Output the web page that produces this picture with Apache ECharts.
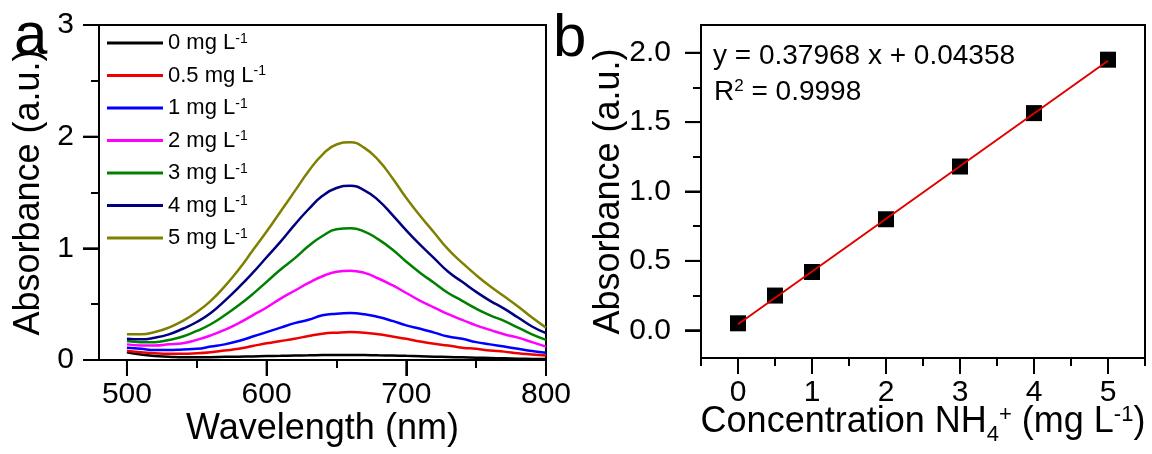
<!DOCTYPE html>
<html>
<head>
<meta charset="utf-8">
<script src="https://cdn.jsdelivr.net/npm/echarts@6/dist/echarts.min.js"></script>
<style>
  html, body { margin: 0; padding: 0; background: #fff; }
  #chart { width: 1152px; height: 454px; }
</style>
</head>
<body>
<div id="chart"></div>
<script>
// panel a: UV-vis spectra
const wavelengths = [500, 510, 520, 530, 540, 550, 560, 570, 580, 590, 600, 610, 620, 630, 640, 650,
  660, 670, 680, 690, 700, 710, 720, 730, 740, 750, 760, 770, 780, 790, 800]
const abs0 = [0.07, 0.05, 0.035, 0.03, 0.025, 0.025, 0.025, 0.028, 0.03, 0.032, 0.035, 0.037, 0.04, 0.042, 0.044, 0.045,
  0.045, 0.044, 0.042, 0.04, 0.037, 0.034, 0.03, 0.027, 0.024, 0.021, 0.018, 0.015, 0.012, 0.01, 0.008]
const abs05 = [0.08, 0.07, 0.06, 0.055, 0.055, 0.06, 0.07, 0.085, 0.10, 0.125, 0.15, 0.17, 0.19, 0.215, 0.235, 0.245,
  0.25, 0.245, 0.23, 0.21, 0.19, 0.165, 0.145, 0.13, 0.11, 0.10, 0.085, 0.075, 0.06, 0.05, 0.04]
const abs1 = [0.11, 0.10, 0.09, 0.09, 0.095, 0.10, 0.12, 0.14, 0.17, 0.21, 0.25, 0.29, 0.33, 0.36, 0.40, 0.415,
  0.42, 0.41, 0.385, 0.35, 0.31, 0.28, 0.245, 0.21, 0.19, 0.16, 0.14, 0.12, 0.10, 0.08, 0.065]
const abs2 = [0.14, 0.13, 0.13, 0.14, 0.15, 0.18, 0.22, 0.27, 0.33, 0.40, 0.47, 0.55, 0.62, 0.69, 0.75, 0.79,
  0.80, 0.78, 0.73, 0.67, 0.60, 0.53, 0.47, 0.41, 0.36, 0.31, 0.27, 0.23, 0.20, 0.16, 0.12]
const abs3 = [0.17, 0.16, 0.16, 0.18, 0.21, 0.26, 0.32, 0.40, 0.49, 0.59, 0.70, 0.81, 0.91, 1.02, 1.11, 1.17,
  1.18, 1.15, 1.08, 0.99, 0.88, 0.78, 0.69, 0.60, 0.53, 0.46, 0.40, 0.35, 0.29, 0.23, 0.18]
const abs4 = [0.19, 0.185, 0.20, 0.23, 0.28, 0.34, 0.42, 0.53, 0.65, 0.78, 0.92, 1.06, 1.21, 1.35, 1.47, 1.54,
  1.56, 1.52, 1.43, 1.30, 1.16, 1.03, 0.91, 0.79, 0.70, 0.61, 0.53, 0.46, 0.38, 0.30, 0.24]
const abs5 = [0.23, 0.23, 0.25, 0.29, 0.35, 0.43, 0.53, 0.66, 0.81, 0.98, 1.15, 1.33, 1.51, 1.69, 1.84, 1.93,
  1.95, 1.90, 1.79, 1.63, 1.45, 1.29, 1.14, 0.99, 0.87, 0.76, 0.66, 0.57, 0.48, 0.38, 0.29]
const spectra = [abs0, abs05, abs1, abs2, abs3, abs4, abs5]
const concNames = ['0', '0.5', '1', '2', '3', '4', '5']
const lineColors = ['#000000', '#ee0000', '#0000ff', '#ff00ff', '#008000', '#000080', '#808000']

// panel b: calibration
const concentrations = [0, 0.5, 1, 2, 3, 4, 5]
const peakAbs = [0.05, 0.25, 0.42, 0.80, 1.18, 1.565, 1.95]
const fitX = [0, 5]
const fitY = [0.0436, 1.942]

// axis ranges: frame range and the labelled range
const xRangeA = [480, 800], xTickA = [500, 800]
const yRangeA = [0, 3]
const xRangeB = [-0.5, 5.5], xTickB = [0, 5]
const yRangeB = [-0.2, 2.2], yTickB = [0, 2]
// long (major) tick values
const xMajorA = [500, 600, 700, 800]
const yMajorA = [0, 1, 2, 3]
const xMajorB = [0, 1, 2, 3, 4, 5]
const yMajorB = [0, 0.5, 1, 1.5, 2]

const FONT = '"Liberation Sans", Arial, sans-serif'
const black = '#000'
const MAJOR = 16
const rectA = { left: 99, top: 25, width: 447, height: 335 }
const rectB = { left: 701, top: 25, width: 444, height: 333 }

// sub-rectangle of a frame that spans only the labelled part of an axis
const subX = (rect, range, part) => Object.assign({}, rect, {
  left: rect.left + (part[0] - range[0]) / (range[1] - range[0]) * rect.width,
  width: (part[1] - part[0]) / (range[1] - range[0]) * rect.width,
})
const subY = (rect, range, part) => Object.assign({}, rect, {
  top: rect.top + (range[1] - part[1]) / (range[1] - range[0]) * rect.height,
  height: (part[1] - part[0]) / (range[1] - range[0]) * rect.height,
})
// thin bands under / left of a frame that hold the long ticks
const bandBelow = r => ({ left: r.left, width: r.width, top: r.top + r.height, height: MAJOR })
const bandLeft = r => ({ left: r.left - MAJOR, width: MAJOR, top: r.top, height: r.height })

const gridRects = [
  rectA,                              // 0 panel a frame + data
  subX(rectA, xRangeA, xTickA),       // 1 panel a x labels + ticks
  bandBelow(rectA),                   // 2 panel a x long ticks
  bandLeft(rectA),                    // 3 panel a y long ticks
  rectB,                              // 4 panel b frame + data
  subX(rectB, xRangeB, xTickB),       // 5 panel b x labels
  subY(rectB, yRangeB, yTickB),       // 6 panel b y labels + ticks
  bandBelow(rectB),                   // 7 panel b x long ticks
  bandLeft(rectB),                    // 8 panel b y long ticks
]
const grids = gridRects.map((r, i) => Object.assign({
  show: i === 0 || i === 4,
  borderColor: black,
  borderWidth: 2,
  backgroundColor: 'transparent',
}, r))

const tickStyle = { color: black, width: 2 }
const labelStyle = {
  color: black, fontSize: 30, fontFamily: FONT,
  backgroundColor: 'transparent', padding: 0, textBorderWidth: 0,
}
const nameStyle = { color: black, fontSize: 36, fontFamily: FONT }

const hiddenAxis = (gridIndex, range) => ({ gridIndex, type: 'value', min: range[0], max: range[1], show: false })

const frameAxis = (gridIndex, range, extra) => Object.assign({
  gridIndex,
  type: 'value',
  min: range[0],
  max: range[1],
  axisLine: { show: true, onZero: false, lineStyle: { color: black, width: 2 } },
  axisTick: { show: false },
  minorTick: { show: false },
  axisLabel: { show: false },
  splitLine: { show: false },
  nameLocation: 'middle',
  nameTextStyle: nameStyle,
}, extra)

const labelAxis = (gridIndex, range, interval, minorSplit, margin, formatter) => ({
  gridIndex,
  type: 'value',
  min: range[0],
  max: range[1],
  interval,
  axisLine: { show: false, onZero: false },
  axisTick: { show: true, length: MAJOR, lineStyle: tickStyle },
  minorTick: { show: minorSplit > 0, splitNumber: minorSplit || 2, length: 8, lineStyle: tickStyle },
  axisLabel: Object.assign({ show: true, margin, formatter }, labelStyle),
  splitLine: { show: false },
  minorSplitLine: { show: false },
})

// long ticks: thin marks placed through the band grid's axes, on their own layer
const tickSeries = (gridIndex, values, horizontal) => ({
  type: 'scatter',
  xAxisIndex: gridIndex,
  yAxisIndex: gridIndex,
  data: values.map(v => (horizontal ? [0.5, v] : [v, 0.5])),
  symbol: 'rect',
  symbolSize: horizontal ? [MAJOR, 2] : [2, MAJOR],
  itemStyle: { color: black, opacity: 1 },
  clip: false,
  silent: true,
  zlevel: 1,
  z: 100,
})

const lineSeries = spectra.map((vals, i) => ({
  name: concNames[i] + ' mg L-1',
  type: 'line',
  xAxisIndex: 0,
  yAxisIndex: 0,
  data: wavelengths.map((w, j) => [w, vals[j]]),
  smooth: true,
  showSymbol: false,
  symbol: 'none',
  lineStyle: { color: lineColors[i], width: 2.5 },
  itemStyle: { color: lineColors[i] },
  z: 3,
}))

const option = {
  animation: false,
  backgroundColor: '#fff',
  textStyle: { fontFamily: FONT },
  grid: grids,
  xAxis: [
    frameAxis(0, xRangeA, { name: 'Wavelength (nm)', nameGap: 51 }),
    labelAxis(1, xTickA, 100, 2, 20),
    hiddenAxis(2, xRangeA),
    hiddenAxis(3, [0, 1]),
    frameAxis(4, xRangeB, {
      interval: 0.5,
      axisTick: { show: true, length: 8, lineStyle: tickStyle },
      name: '{t|Concentration NH}{sb|4}{sp|+}{t| (mg L}{sp|-1}{t|)}',
      nameGap: 46,
      nameTextStyle: {
        color: black, fontFamily: FONT,
        rich: {
          t: { fontSize: 36, lineHeight: 42, verticalAlign: 'top', color: black, fontFamily: FONT },
          sp: { fontSize: 22, lineHeight: 22, verticalAlign: 'top', color: black, fontFamily: FONT },
          sb: { fontSize: 22, lineHeight: 22, verticalAlign: 'bottom', color: black, fontFamily: FONT },
        },
      },
    }),
    labelAxis(5, xTickB, 1, 0, 20),
    hiddenAxis(6, xRangeB),
    hiddenAxis(7, xRangeB),
    hiddenAxis(8, [0, 1]),
  ],
  yAxis: [
    Object.assign(labelAxis(0, yRangeA, 1, 2, 25), {
      axisLine: { show: true, onZero: false, lineStyle: { color: black, width: 2 } },
      name: 'Absorbance (a.u.)', nameLocation: 'middle', nameGap: 52, nameTextStyle: nameStyle,
    }),
    hiddenAxis(1, yRangeA),
    hiddenAxis(2, [0, 1]),
    hiddenAxis(3, yRangeA),
    frameAxis(4, yRangeB, { name: 'Absorbance (a.u.)', nameGap: 74 }),
    hiddenAxis(5, yRangeB),
    labelAxis(6, yTickB, 0.5, 2, 30, v => v.toFixed(1)),
    hiddenAxis(7, [0, 1]),
    hiddenAxis(8, yRangeB),
  ],
  legend: {
    orient: 'vertical',
    left: 107,
    top: 32,
    padding: 0,
    icon: 'rect',
    itemWidth: 56,
    itemHeight: 3,
    itemGap: 10.5,
    data: lineSeries.map(s => s.name),
    formatter: name => '{t|' + name.replace(' mg L-1', ' mg L') + '}{s|-1}',
    textStyle: {
      color: black,
      fontFamily: FONT,
      rich: {
        t: { fontSize: 22, lineHeight: 22, verticalAlign: 'top', color: black, fontFamily: FONT },
        s: { fontSize: 14, lineHeight: 14, verticalAlign: 'top', color: black, fontFamily: FONT },
      },
    },
  },
  graphic: [
    { type: 'text', style: { x: 14, y: 37, text: 'a', fill: black, font: '60px ' + FONT, verticalAlign: 'middle' } },
    { type: 'text', style: { x: 553, y: 39, text: 'b', fill: black, font: '60px ' + FONT, verticalAlign: 'middle' } },
    { type: 'text', style: { x: 713, y: 56, text: 'y = 0.37968 x + 0.04358', fill: black, font: '28px ' + FONT, verticalAlign: 'middle' } },
    {
      type: 'text',
      style: {
        x: 714, y: 92, fill: black, verticalAlign: 'middle',
        text: '{t|R}{s|2}{t| = 0.9998}',
        rich: {
          t: { fontSize: 28, lineHeight: 28, verticalAlign: 'top', fontFamily: FONT, fill: black },
          s: { fontSize: 17, lineHeight: 17, verticalAlign: 'top', fontFamily: FONT, fill: black },
        },
      },
    },
  ],
  series: [
    ...lineSeries,
    {
      name: 'fit',
      type: 'line',
      xAxisIndex: 4,
      yAxisIndex: 4,
      data: fitX.map((x, i) => [x, fitY[i]]),
      showSymbol: false,
      symbol: 'none',
      lineStyle: { color: '#e00000', width: 2 },
      z: 4,
    },
    {
      name: 'points',
      type: 'scatter',
      xAxisIndex: 4,
      yAxisIndex: 4,
      data: concentrations.map((c, i) => [c, peakAbs[i]]),
      symbol: 'rect',
      symbolSize: 16,
      itemStyle: { color: black, opacity: 1 },
      z: 3,
    },
    tickSeries(2, xMajorA, false),
    tickSeries(3, yMajorA, true),
    tickSeries(7, xMajorB, false),
    tickSeries(8, yMajorB, true),
  ],
}

const chart = echarts.init(document.getElementById('chart'))
chart.setOption(option)
</script>
</body>
</html>
